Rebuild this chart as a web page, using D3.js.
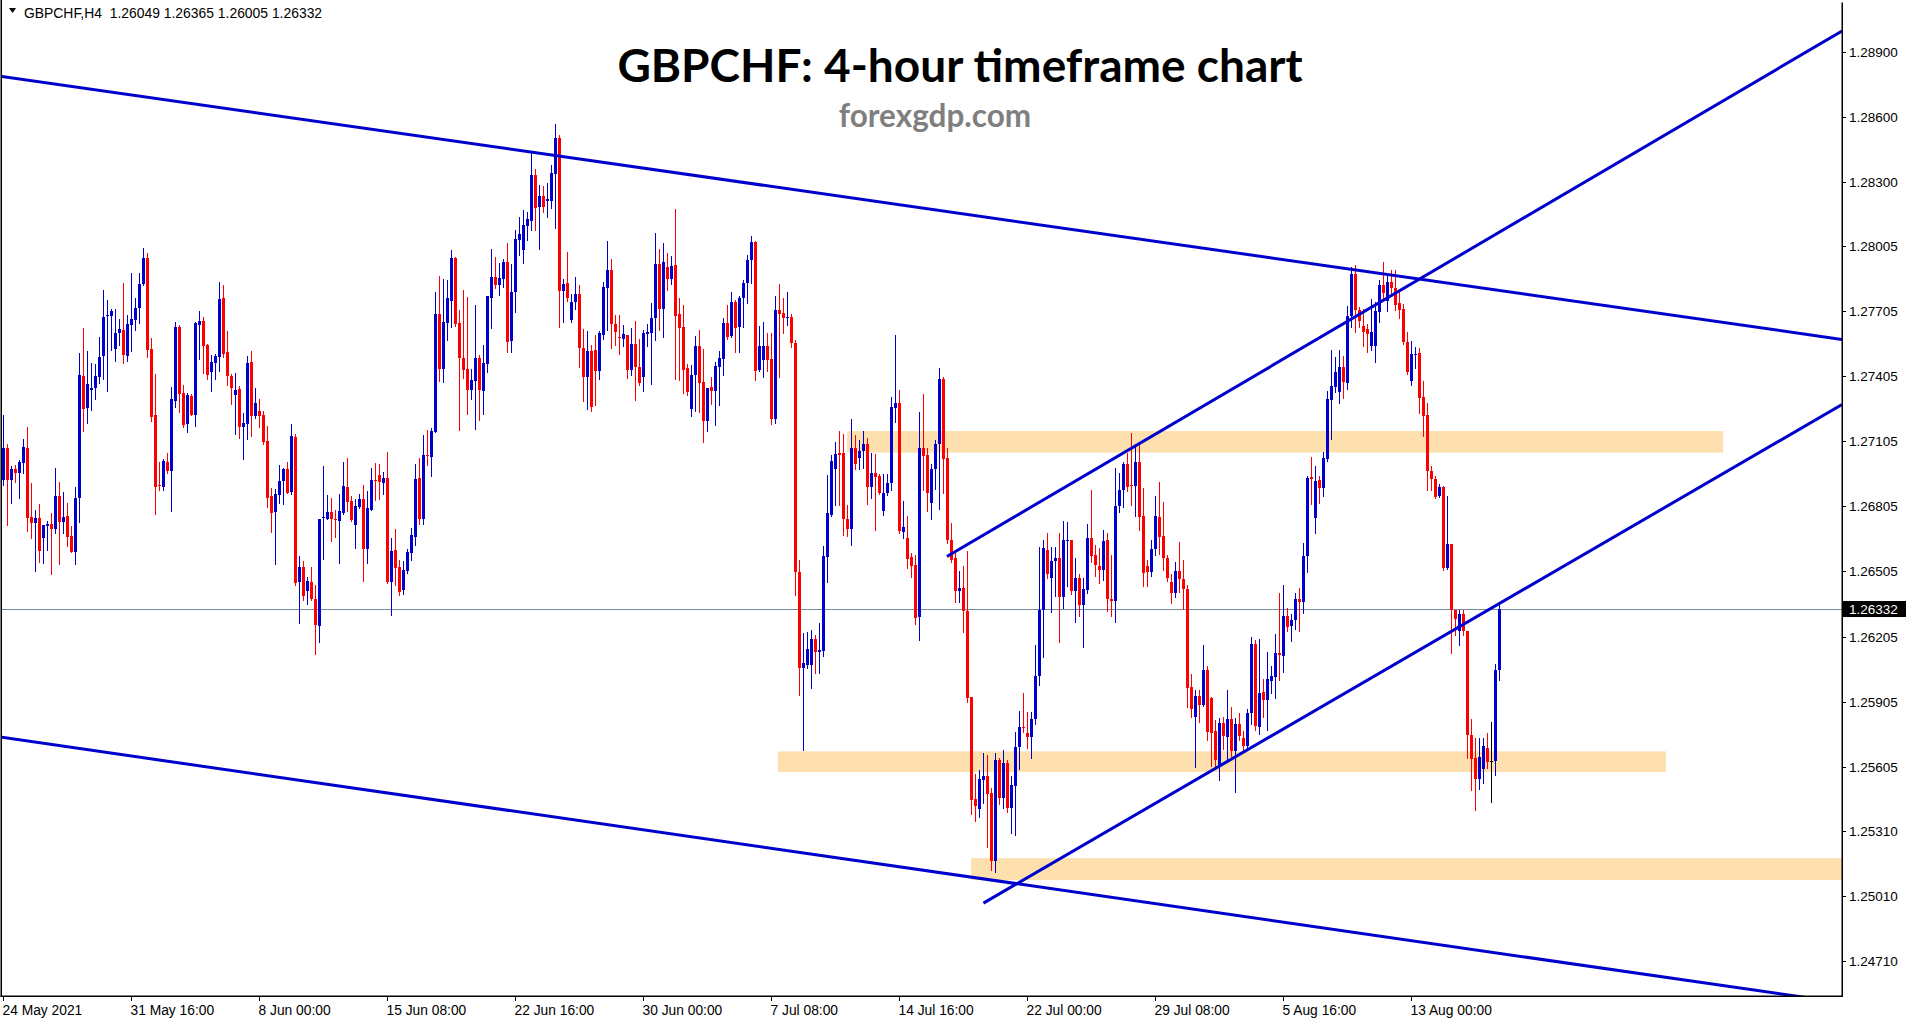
<!DOCTYPE html>
<html><head><meta charset="utf-8">
<script src="https://cdn.jsdelivr.net/npm/d3@7"></script>
<style>html,body{margin:0;padding:0;background:#fff;overflow:hidden}svg{display:block}</style>
</head><body>
<svg id="chart" width="1913" height="1023"></svg>
<script>
// ---------- DATA (GBPCHF H4 candles) ----------
const symbolLabel = "GBPCHF,H4";
const opens = [
1.26926,1.27072,1.26926,1.26977,1.26957,1.27006,1.27072,1.26756,1.26729,1.26752,
1.26660,1.26716,1.26724,1.26699,1.26852,1.26734,1.26760,1.26668,1.26596,1.26845,
1.27405,1.27259,1.27341,1.27350,1.27402,1.27499,1.27681,1.27682,1.27531,1.27604,
1.27617,1.27499,1.27642,1.27663,1.27719,1.27831,1.27949,1.27530,1.27226,1.26903,
1.26895,1.27009,1.26969,1.27292,1.27631,1.27327,1.27184,1.27315,1.27226,1.27642,
1.27660,1.27548,1.27425,1.27467,1.27494,1.27765,1.27516,1.27405,1.27319,1.27345,
1.27172,1.27186,1.27470,1.27223,1.27244,1.27226,1.27106,1.26852,1.26780,1.26858,
1.26922,1.26977,1.26872,1.27124,1.26457,1.26527,1.26416,1.26456,1.26378,1.26255,
1.26753,1.26748,1.26779,1.26749,1.26739,1.26774,1.26894,1.26830,1.26720,1.26803,
1.26839,1.26610,1.26789,1.26926,1.26949,1.26914,1.26935,1.26456,1.26604,1.26525,
1.26419,1.26507,1.26590,1.26664,1.26935,1.26746,1.27041,1.27034,1.27149,1.27691,
1.27439,1.27648,1.27752,1.27949,1.27650,1.27490,1.27439,1.27342,1.27384,1.27490,
1.27338,1.27462,1.27766,1.27862,1.27825,1.27854,1.27931,1.27568,1.27793,1.28032,
1.27986,1.28097,1.28121,1.28332,1.28184,1.28235,1.28214,1.28212,1.28338,1.28502,
1.27799,1.27834,1.27665,1.27748,1.27785,1.27536,1.27402,1.27522,1.27527,1.27430,
1.27596,1.27813,1.27892,1.27645,1.27584,1.27577,1.27594,1.27433,1.27554,1.27446,
1.27401,1.27599,1.27605,1.27675,1.27922,1.27714,1.27910,1.27854,1.27917,1.27691,
1.27631,1.27442,1.27255,1.27408,1.27544,1.27378,1.27198,1.27357,1.27336,1.27449,
1.27486,1.27651,1.27590,1.27746,1.27631,1.27767,1.27834,1.27942,1.28023,1.27434,
1.27481,1.27544,1.27484,1.27207,1.27710,1.27696,1.27673,1.27677,1.27558,1.26503,
1.26062,1.26075,1.26075,1.26194,1.26135,1.26140,1.26573,1.26767,1.26975,1.27050,
1.27050,1.26749,1.26702,1.27074,1.27028,1.27060,1.27092,1.26896,1.26959,1.26945,
1.26784,1.26865,1.26911,1.27260,1.27282,1.26689,1.26659,1.26571,1.26535,1.26296,
1.27075,1.27042,1.26820,1.26978,1.27093,1.27394,1.27026,1.26652,1.26565,1.26414,
1.26429,1.26324,1.25927,1.25457,1.25411,1.25544,1.25562,1.25484,1.25171,1.25636,
1.25463,1.25624,1.25417,1.25517,1.25694,1.25790,1.25760,1.25742,1.25827,1.26023,
1.26328,1.26605,1.26474,1.26552,1.26565,1.26386,1.26647,1.26651,1.26416,1.26474,
1.26352,1.26419,1.26661,1.26583,1.26529,1.26510,1.26651,1.26378,1.26370,1.26807,
1.26880,1.26999,1.26905,1.26899,1.27011,1.26760,1.26529,1.26501,1.26607,1.26756,
1.26668,1.26569,1.26456,1.26408,1.26507,1.26470,1.26422,1.25972,1.25836,1.25931,
1.25891,1.26049,1.25922,1.25772,1.25608,1.25809,1.25742,1.25827,1.25676,1.25803,
1.25740,1.25702,1.25855,1.26170,1.25790,1.25949,1.25915,1.26000,1.26017,1.26131,
1.26114,1.26302,1.26256,1.26281,1.26378,1.26363,1.26575,1.26938,1.26750,1.26926,
1.26890,1.27023,1.27295,1.27355,1.27333,1.27449,1.27372,1.27684,1.27875,1.27710,
1.27637,1.27620,1.27544,1.27544,1.27700,1.27825,1.27751,1.27841,1.27811,1.27742,
1.27714,1.27560,1.27381,1.27503,1.27512,1.27309,1.27224,1.26970,1.26933,1.26852,
1.26892,1.26520,1.26631,1.26329,1.26230,1.26307,1.26230,1.25753,1.25647,1.25548,
1.25596,1.25693,1.25630,1.25634,1.26049];
const highs = [
1.27226,1.27092,1.26991,1.26995,1.27018,1.27114,1.27172,1.26914,1.26788,1.26816,
1.26719,1.26739,1.26776,1.26982,1.26917,1.26871,1.26819,1.26716,1.26894,1.27511,
1.27627,1.27521,1.27464,1.27461,1.27585,1.27802,1.27756,1.27716,1.27713,1.27668,
1.27834,1.27688,1.27880,1.27765,1.27880,1.27995,1.27972,1.27581,1.27415,1.27011,
1.27023,1.27052,1.27355,1.27656,1.27640,1.27364,1.27326,1.27322,1.27656,1.27705,
1.27677,1.27551,1.27502,1.27507,1.27839,1.27825,1.27613,1.27415,1.27419,1.27359,
1.27235,1.27498,1.27521,1.27350,1.27299,1.27244,1.27175,1.26889,1.26886,1.26995,
1.26980,1.27009,1.27184,1.27138,1.26576,1.26553,1.26479,1.26527,1.26442,1.26746,
1.26991,1.26857,1.26843,1.26788,1.26862,1.27009,1.27029,1.26852,1.26839,1.26862,
1.26903,1.26876,1.26982,1.27005,1.27000,1.26963,1.27055,1.26659,1.26700,1.26558,
1.26554,1.26610,1.26705,1.27000,1.27028,1.27134,1.27157,1.27164,1.27793,1.27866,
1.27852,1.27848,1.27986,1.27955,1.27710,1.27802,1.27771,1.27439,1.27734,1.27504,
1.27548,1.27775,1.27991,1.27955,1.27928,1.27946,1.28018,1.27922,1.28078,1.28139,
1.28170,1.28161,1.28433,1.28359,1.28286,1.28281,1.28296,1.28378,1.28567,1.28516,
1.27852,1.27977,1.27785,1.27863,1.27825,1.27623,1.27614,1.27550,1.27596,1.27614,
1.27839,1.28029,1.27946,1.27688,1.27688,1.27642,1.27596,1.27627,1.27659,1.27578,
1.27618,1.27647,1.27740,1.28064,1.27991,1.28018,1.27972,1.27958,1.28173,1.27767,
1.27733,1.27461,1.27456,1.27590,1.27618,1.27530,1.27352,1.27401,1.27470,1.27521,
1.27673,1.27735,1.27793,1.27756,1.27772,1.27848,1.27963,1.28051,1.28027,1.27638,
1.27654,1.27604,1.27604,1.27772,1.27829,1.27767,1.27793,1.27691,1.27571,1.26560,
1.26221,1.26226,1.26235,1.26212,1.26269,1.26624,1.26949,1.27041,1.27101,1.27150,
1.27137,1.26811,1.27207,1.27134,1.27110,1.27150,1.27120,1.27053,1.27046,1.26956,
1.26956,1.26956,1.27309,1.27594,1.27339,1.26829,1.26762,1.26592,1.26581,1.27242,
1.27322,1.27075,1.27002,1.27111,1.27443,1.27399,1.27075,1.26729,1.26592,1.26507,
1.26529,1.26601,1.25927,1.25571,1.25590,1.25668,1.25661,1.25508,1.25668,1.25645,
1.25682,1.25636,1.25562,1.25767,1.25864,1.25945,1.25858,1.25858,1.26164,1.26616,
1.26650,1.26680,1.26619,1.26619,1.26683,1.26738,1.26733,1.26651,1.26565,1.26493,
1.26474,1.26724,1.26880,1.26628,1.26614,1.26696,1.26683,1.26583,1.26984,1.26957,
1.27011,1.27052,1.27143,1.27093,1.27097,1.26888,1.26556,1.26651,1.26852,1.26917,
1.26825,1.26583,1.26493,1.26547,1.26641,1.26556,1.26441,1.26033,1.25959,1.25959,
1.26164,1.26069,1.25926,1.25821,1.25830,1.25836,1.25960,1.25882,1.25830,1.25855,
1.25772,1.25873,1.26205,1.26189,1.26193,1.26009,1.26136,1.26069,1.26216,1.26404,
1.26443,1.26336,1.26307,1.26404,1.26431,1.26636,1.26943,1.27031,1.26989,1.26945,
1.27057,1.27338,1.27525,1.27495,1.27525,1.27500,1.27730,1.27910,1.27918,1.27722,
1.27713,1.27645,1.27761,1.27747,1.27850,1.27932,1.27867,1.27893,1.27893,1.27799,
1.27739,1.27608,1.27569,1.27539,1.27534,1.27381,1.27279,1.26989,1.26943,1.26909,
1.26899,1.26852,1.26631,1.26329,1.26329,1.26329,1.26230,1.25825,1.25738,1.25739,
1.25739,1.25760,1.25812,1.26080,1.26365];
const lows = [
1.26903,1.26719,1.26819,1.26918,1.26842,1.26957,1.26691,1.26660,1.26507,1.26548,
1.26545,1.26604,1.26494,1.26681,1.26541,1.26681,1.26623,1.26596,1.26541,1.26734,
1.27152,1.27189,1.27249,1.27301,1.27372,1.27393,1.27336,1.27525,1.27474,1.27548,
1.27465,1.27476,1.27522,1.27617,1.27650,1.27825,1.27493,1.27199,1.26770,1.26880,
1.26880,1.26957,1.26785,1.27264,1.27240,1.27172,1.27147,1.27226,1.27175,1.27484,
1.27421,1.27392,1.27336,1.27392,1.27428,1.27494,1.27364,1.27278,1.27138,1.27120,
1.27023,1.27115,1.27129,1.27213,1.27172,1.27092,1.26802,1.26687,1.26541,1.26819,
1.26816,1.26865,1.26862,1.26441,1.26266,1.26375,1.26356,1.26373,1.26126,1.26181,
1.26564,1.26746,1.26645,1.26664,1.26545,1.26771,1.26784,1.26739,1.26614,1.26797,
1.26462,1.26545,1.26788,1.26834,1.26839,1.26862,1.26451,1.26304,1.26442,1.26396,
1.26401,1.26496,1.26558,1.26627,1.26724,1.26724,1.26995,1.26946,1.27149,1.27384,
1.27379,1.27571,1.27633,1.27636,1.27157,1.27398,1.27230,1.27301,1.27163,1.27204,
1.27232,1.27425,1.27627,1.27812,1.27780,1.27817,1.27517,1.27517,1.27702,1.27963,
1.27926,1.28032,1.28078,1.28078,1.27992,1.28161,1.28139,1.28181,1.28089,1.27633,
1.27656,1.27751,1.27653,1.27716,1.27448,1.27292,1.27255,1.27246,1.27273,1.27393,
1.27577,1.27617,1.27536,1.27550,1.27508,1.27545,1.27398,1.27410,1.27295,1.27364,
1.27336,1.27546,1.27369,1.27573,1.27618,1.27586,1.27802,1.27829,1.27392,1.27389,
1.27327,1.27320,1.27223,1.27246,1.27240,1.27101,1.27153,1.27276,1.27182,1.27272,
1.27408,1.27578,1.27586,1.27518,1.27518,1.27631,1.27740,1.27832,1.27389,1.27428,
1.27401,1.27428,1.27184,1.27189,1.27401,1.27605,1.27640,1.27541,1.26398,1.25937,
1.25682,1.26060,1.25968,1.26037,1.26035,1.26115,1.26456,1.26762,1.26811,1.26813,
1.26673,1.26668,1.26629,1.26975,1.26975,1.26980,1.26817,1.26843,1.26697,1.26862,
1.26765,1.26857,1.26880,1.27195,1.26684,1.26657,1.26523,1.26479,1.26264,1.26189,
1.26880,1.26783,1.26747,1.26885,1.26793,1.26867,1.26638,1.26547,1.26364,1.26364,
1.26228,1.25905,1.25389,1.25353,1.25372,1.25439,1.25235,1.25129,1.25120,1.25435,
1.25413,1.25399,1.25300,1.25293,1.25595,1.25765,1.25690,1.25645,1.25800,1.25982,
1.26111,1.26475,1.26319,1.26392,1.26182,1.26337,1.26438,1.26401,1.26273,1.26300,
1.26155,1.26404,1.26547,1.26483,1.26451,1.26465,1.26324,1.26300,1.26270,1.26779,
1.26802,1.26878,1.26811,1.26762,1.26698,1.26438,1.26438,1.26483,1.26583,1.26587,
1.26510,1.26460,1.26361,1.26386,1.26410,1.26332,1.25882,1.25836,1.25604,1.25813,
1.25887,1.25730,1.25608,1.25608,1.25544,1.25687,1.25636,1.25657,1.25490,1.25727,
1.25681,1.25693,1.25804,1.25774,1.25756,1.25834,1.25773,1.25945,1.25920,1.26005,
1.26043,1.26230,1.26183,1.26239,1.26230,1.26312,1.26503,1.26818,1.26682,1.26820,
1.26852,1.27014,1.27117,1.27330,1.27279,1.27304,1.27347,1.27631,1.27608,1.27631,
1.27546,1.27517,1.27525,1.27471,1.27654,1.27761,1.27705,1.27785,1.27710,1.27671,
1.27551,1.27415,1.27364,1.27444,1.27236,1.27130,1.26881,1.26881,1.26844,1.26848,
1.26511,1.26516,1.26129,1.26213,1.26166,1.26213,1.25647,1.25497,1.25408,1.25502,
1.25531,1.25599,1.25443,1.25569,1.26005];
const closes = [
1.27072,1.26926,1.26977,1.26957,1.27011,1.27080,1.26752,1.26729,1.26752,1.26600,
1.26719,1.26724,1.26699,1.26852,1.26734,1.26757,1.26665,1.26596,1.26845,1.27410,
1.27253,1.27369,1.27350,1.27405,1.27493,1.27677,1.27685,1.27706,1.27604,1.27622,
1.27502,1.27645,1.27668,1.27719,1.27831,1.27949,1.27527,1.27218,1.26895,1.26899,
1.27015,1.26969,1.27299,1.27631,1.27322,1.27180,1.27319,1.27226,1.27651,1.27660,
1.27544,1.27410,1.27470,1.27499,1.27760,1.27508,1.27405,1.27351,1.27341,1.27172,
1.27189,1.27465,1.27223,1.27281,1.27223,1.27101,1.26845,1.26776,1.26862,1.26922,
1.26977,1.26868,1.27129,1.26453,1.26527,1.26393,1.26461,1.26378,1.26259,1.26746,
1.26758,1.26779,1.26746,1.26744,1.26784,1.26899,1.26826,1.26742,1.26806,1.26839,
1.26610,1.26797,1.26926,1.26922,1.26918,1.26935,1.26456,1.26599,1.26522,1.26410,
1.26511,1.26594,1.26673,1.26931,1.26746,1.27041,1.27037,1.27152,1.27691,1.27439,
1.27654,1.27765,1.27949,1.27645,1.27490,1.27433,1.27342,1.27387,1.27490,1.27342,
1.27465,1.27775,1.27862,1.27825,1.27857,1.27931,1.27563,1.27793,1.28037,1.28060,
1.28101,1.28129,1.28332,1.28181,1.28235,1.28184,1.28219,1.28341,1.28502,1.27799,
1.27831,1.27766,1.27748,1.27785,1.27536,1.27402,1.27522,1.27264,1.27430,1.27605,
1.27816,1.27892,1.27643,1.27610,1.27580,1.27600,1.27433,1.27554,1.27449,1.27375,
1.27605,1.27609,1.27675,1.27922,1.27714,1.27931,1.27854,1.27914,1.27683,1.27627,
1.27433,1.27332,1.27410,1.27544,1.27373,1.27198,1.27350,1.27336,1.27452,1.27489,
1.27651,1.27586,1.27746,1.27627,1.27767,1.27834,1.27942,1.28023,1.27428,1.27544,
1.27544,1.27481,1.27207,1.27710,1.27691,1.27675,1.27677,1.27558,1.26503,1.26062,
1.26083,1.26147,1.26196,1.26135,1.26143,1.26576,1.26775,1.27012,1.27046,1.27043,
1.26749,1.26702,1.27074,1.27000,1.27061,1.27092,1.26896,1.26959,1.26940,1.26865,
1.26867,1.26912,1.27263,1.27282,1.26692,1.26710,1.26564,1.26532,1.26291,1.27074,
1.27039,1.26865,1.26978,1.27093,1.27394,1.27024,1.26652,1.26556,1.26414,1.26429,
1.26324,1.25924,1.25453,1.25426,1.25548,1.25562,1.25481,1.25171,1.25636,1.25463,
1.25622,1.25417,1.25521,1.25694,1.25790,1.25786,1.25742,1.25827,1.26023,1.26328,
1.26611,1.26492,1.26552,1.26565,1.26386,1.26651,1.26652,1.26416,1.26474,1.26352,
1.26422,1.26661,1.26574,1.26534,1.26514,1.26647,1.26378,1.26370,1.26807,1.26880,
1.26999,1.26896,1.26899,1.27011,1.26756,1.26496,1.26501,1.26607,1.26760,1.26665,
1.26565,1.26474,1.26408,1.26507,1.26470,1.26422,1.25968,1.25872,1.25931,1.25891,
1.26049,1.25767,1.25763,1.25636,1.25809,1.25745,1.25827,1.25676,1.25803,1.25748,
1.25702,1.25855,1.26170,1.25795,1.25944,1.25915,1.26009,1.26023,1.26131,1.26122,
1.26302,1.26247,1.26281,1.26378,1.26363,1.26575,1.26936,1.26929,1.26924,1.26890,
1.27028,1.27299,1.27359,1.27424,1.27449,1.27376,1.27684,1.27875,1.27710,1.27659,
1.27608,1.27597,1.27608,1.27705,1.27825,1.27790,1.27841,1.27811,1.27734,1.27710,
1.27560,1.27424,1.27505,1.27508,1.27304,1.27223,1.26970,1.26933,1.26849,1.26892,
1.26520,1.26631,1.26329,1.26285,1.26307,1.26230,1.25753,1.25642,1.25548,1.25651,
1.25699,1.25625,1.25630,1.26049,1.26332];

// x axis: bar index of each date label, and the label text
const timeTickIndex = [0,32,64,96,128,160,192,224,256,288,320,352];
const timeTickLabels = ["24 May 2021","31 May 16:00","8 Jun 00:00","15 Jun 08:00","22 Jun 16:00",
  "30 Jun 00:00","7 Jul 08:00","14 Jul 16:00","22 Jul 00:00","29 Jul 08:00","5 Aug 16:00","13 Aug 00:00"];
// price axis labels
const priceTicks = [1.28900,1.28600,1.28300,1.28005,1.27705,1.27405,1.27105,1.26805,
  1.26505,1.26205,1.25905,1.25605,1.25310,1.25010,1.24710];
const priceDomain = [1.24549, 1.29138];

// support / resistance zones: [start bar, end bar, upper price, lower price]
const zoneStart = [210.9, 193.6, 241.9];
const zoneEnd   = [429.9, 415.6, 470];
const zoneTop   = [1.27152, 1.25676, 1.25184];
const zoneBottom= [1.27053, 1.25581, 1.25083];

// trendlines: anchor (bar, price) pairs
const lineI0 = [-0.875, -0.875, 235.85, 244.98];
const lineP0 = [1.28787, 1.25742, 1.26574, 1.24977];
const lineI1 = [459.625, 459.625, 459.625, 459.625];
const lineP1 = [1.27574, 1.24518, 1.28995, 1.27274];

// ---------- DRAW ----------
const N = opens.length;
const svg = d3.select("#chart");
const plotL = 1.5, plotR = 1842, plotT = 0, plotB = 996;
const x = d3.scaleLinear().domain([-0.5, N - 0.5]).range([1.5, 1.5 + 4 * N]);
const y = d3.scaleLinear().domain(priceDomain).range([plotB, plotT]);
const BLUE = "#0000CD", RED = "#FF0000";
const FONT = "'Liberation Sans', Arial, sans-serif";

svg.append("rect").attr("width",1913).attr("height",1023).attr("fill","#fff");
svg.append("defs").append("clipPath").attr("id","plotclip")
  .append("rect").attr("x",plotL+0.5).attr("y",plotT).attr("width",plotR-plotL-0.5).attr("height",plotB-plotT);

const plot = svg.append("g").attr("clip-path","url(#plotclip)");

// zones
plot.append("g").selectAll("rect").data(zoneStart.map((s,k)=>k)).join("rect")
  .attr("x", k => x(zoneStart[k]))
  .attr("width", k => x(zoneEnd[k]) - x(zoneStart[k]))
  .attr("y", k => y(zoneTop[k]))
  .attr("height", k => y(zoneBottom[k]) - y(zoneTop[k]))
  .attr("fill", "#FEDFAE");

// current price line
const last = closes[N-1];
plot.append("line").attr("x1",plotL).attr("x2",plotR)
  .attr("y1", Math.round(y(last)) + 0.5).attr("y2", Math.round(y(last)) + 0.5)
  .attr("stroke","#778899").attr("stroke-width",1);

// candles
const idx = d3.range(N);
const col = i => closes[i] > opens[i] ? BLUE : (closes[i] < opens[i] ? RED : "#000");
const cg = plot.append("g");
cg.selectAll("line").data(idx).join("line")
  .attr("x1", i => x(i)).attr("x2", i => x(i))
  .attr("y1", i => Math.round(y(highs[i]))).attr("y2", i => Math.round(y(lows[i])) + 1)
  .attr("stroke", col).attr("stroke-width", 1);
cg.selectAll("rect").data(idx).join("rect")
  .attr("x", i => x(i) - 1.5).attr("width", 3)
  .attr("y", i => Math.round(y(Math.max(opens[i], closes[i]))))
  .attr("height", i => Math.max(1, Math.round(y(Math.min(opens[i], closes[i]))) - Math.round(y(Math.max(opens[i], closes[i])))))
  .attr("fill", col);

// trendlines
plot.append("g").selectAll("line").data(lineI0.map((s,k)=>k)).join("line")
  .attr("x1", k => x(lineI0[k])).attr("y1", k => y(lineP0[k]))
  .attr("x2", k => x(lineI1[k])).attr("y2", k => y(lineP1[k]))
  .attr("stroke", BLUE).attr("stroke-width", 3);

// frame
const frame = svg.append("g").attr("stroke","#000").attr("stroke-width",1.5).attr("fill","none");
frame.append("line").attr("x1",1.25).attr("x2",1.25).attr("y1",0).attr("y2",plotB+0.75);
frame.append("line").attr("x1",0.5).attr("x2",plotR+0.75).attr("y1",plotB+0.25).attr("y2",plotB+0.25);
frame.append("line").attr("x1",plotR+0.25).attr("x2",plotR+0.25).attr("y1",2.5).attr("y2",plotB+0.75);

// price axis
const pa = svg.append("g");
pa.selectAll("line").data(priceTicks).join("line")
  .attr("x1", plotR).attr("x2", plotR + 4)
  .attr("y1", d => Math.round(y(d)) + 0.5).attr("y2", d => Math.round(y(d)) + 0.5)
  .attr("stroke", "#000");
pa.selectAll("text").data(priceTicks).join("text")
  .attr("x", plotR + 7).attr("y", d => y(d) + 5)
  .attr("font-family", FONT).attr("font-size", 13.5).attr("fill", "#000")
  .text(d => d.toFixed(5));

// current price tag
const ly = y(last);
svg.append("rect").attr("x", plotR + 1).attr("y", ly - 8).attr("width", 63).attr("height", 16).attr("fill", "#000");
svg.append("text").attr("x", plotR + 7).attr("y", ly + 5)
  .attr("font-family", FONT).attr("font-size", 13.5).attr("fill", "#fff").text(last.toFixed(5));

// time axis
const ta = svg.append("g");
ta.selectAll("line").data(timeTickIndex).join("line")
  .attr("x1", i => x(i)).attr("x2", i => x(i))
  .attr("y1", plotB).attr("y2", plotB + 5).attr("stroke", "#000");
ta.selectAll("text").data(timeTickIndex).join("text")
  .attr("x", i => x(i) - 1).attr("y", 1015)
  .attr("font-family", FONT).attr("font-size", 13.8).attr("fill", "#000")
  .text((i,k) => timeTickLabels[k]);

// header
svg.append("path").attr("d", d3.line()([[9,8],[16,8],[12.5,13]]) + "Z").attr("fill", "#000");
svg.append("text").attr("x", 24).attr("y", 18)
  .attr("font-family", FONT).attr("font-size", 13.9).attr("fill", "#000")
  .attr("xml:space","preserve")
  .text(symbolLabel + "  " + [opens[N-1], highs[N-1], lows[N-1], closes[N-1]].map(v => v.toFixed(5)).join(" "));

// title
svg.append("text").attr("x", 960).attr("y", 82).attr("text-anchor", "middle")
  .attr("font-family", "Lato, 'Open Sans', sans-serif").attr("font-weight", 700)
  .attr("font-size", 46).attr("fill", "#000").text("GBPCHF: 4-hour timeframe chart");
svg.append("text").attr("x", 935).attr("y", 127).attr("text-anchor", "middle")
  .attr("font-family", "Lato, 'Open Sans', sans-serif").attr("font-weight", 700)
  .attr("font-size", 31.5).attr("fill", "#7F7F7F").text("forexgdp.com");
</script>
</body></html>
